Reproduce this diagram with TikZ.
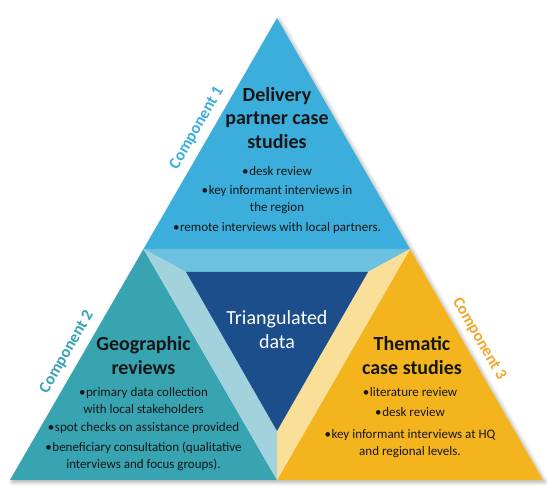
\documentclass[tikz,border=0pt]{standalone}
\usepackage{fontspec}
\setmainfont{Carlito}
\usetikzlibrary{shadows.blur}

\definecolor{deliveryblue}{HTML}{3BAEDB}
\definecolor{geoteal}{HTML}{38A3B1}
\definecolor{themyellow}{HTML}{F3B41E}
\definecolor{coredark}{HTML}{1B4E8B}
\definecolor{bandblue}{HTML}{6CC0E0}
\definecolor{bandteal}{HTML}{A2D3DC}
\definecolor{bandyellow}{HTML}{F9DF98}
\definecolor{compyellow}{HTML}{F0A830}
\definecolor{inkgray}{HTML}{161616}

\tikzset{
  titletext/.style={align=center, text=inkgray, font=\bfseries\fontsize{20}{23.5}\selectfont},
  bullettext/.style={align=center, text=inkgray, font=\fontsize{13}{17}\selectfont},
  comptext/.style={font=\bfseries\fontsize{16.5}{18}\selectfont},
}

\newcommand{\itm}{\textbullet\hspace{0.6pt}}

\begin{document}
\begin{tikzpicture}[x=1pt, y=-1pt]

\useasboundingbox (0,0) rectangle (547,489);

% corners of the big triangle and of the inner core
\coordinate (A) at (277,18);
\coordinate (L) at (10,480);
\coordinate (R) at (543,480);
\coordinate (ML) at (143.5,249);
\coordinate (MR) at (410,249);
\coordinate (MB) at (277,480);
\coordinate (IL) at (186,272);
\coordinate (IR) at (368,272);
\coordinate (IB) at (277,431);

% soft shadow
\fill[white, blur shadow={shadow xshift=2pt, shadow yshift=-2pt, shadow blur radius=4pt, shadow opacity=35}] (A) -- (R) -- (L) -- cycle;

% the three components
\fill[deliveryblue] (A) -- (MR) -- (ML) -- cycle;
\fill[geoteal] (ML) -- (MB) -- (L) -- cycle;
\fill[themyellow] (MR) -- (R) -- (MB) -- cycle;

% bevelled core
\fill[bandblue] (ML) -- (MR) -- (IR) -- (IL) -- cycle;
\fill[bandteal] (ML) -- (IL) -- (IB) -- (MB) -- cycle;
\fill[bandyellow] (MR) -- (MB) -- (IB) -- (IR) -- cycle;
\fill[coredark] (IL) -- (IR) -- (IB) -- cycle;

% texts
\node[titletext] (deltitle) at (277,118) {Delivery\\partner case\\studies};
\node[bullettext] (delitems) at (277,200) {\itm desk review\\[2pt]\itm key informant interviews in\\the region\\[3pt]\itm remote interviews with local partners.};

\node[align=center, text=white, font=\fontsize{20}{24}\selectfont] (core) at (277,330) {Triangulated\\data};

\node[titletext] (geotitle) at (143.5,355.5) {Geographic\\reviews};
\node[bullettext] (geoitems) at (143.5,429) {\itm primary data collection\\with local stakeholders\\[1pt]\itm spot checks on assistance provided\\[3pt]\itm beneficiary consultation (qualitative\\interviews and focus groups).};

\node[titletext] (themtitle) at (412,355.5) {Thematic\\case studies};
\node[bullettext] (themitems) at (410,423) {\itm literature review\\[3pt]\itm desk review\\[5pt]\itm key informant interviews at HQ\\and regional levels.};

\node[comptext, text=deliveryblue, rotate=60] (comp1) at (197,128) {Component 1};
\node[comptext, text=geoteal, rotate=60] (comp2) at (67,352) {Component 2};
\node[comptext, text=compyellow, rotate=-60] (comp3) at (479,339) {Component 3};

\end{tikzpicture}
\end{document}
